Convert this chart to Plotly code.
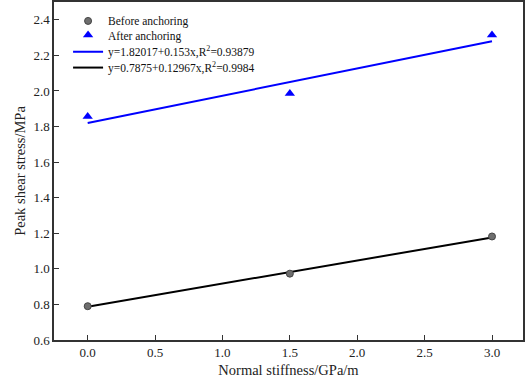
import plotly.graph_objects as go

stiffness = [0.0, 1.5, 3.0]
before = [0.79, 0.973, 1.182]
after = [1.856, 1.985, 2.315]

fit_after_a, fit_after_b = 1.82017, 0.153
fit_before_a, fit_before_b = 0.7875, 0.12967
fit_x = [0.0, 3.0]

x_ticks = [0.0, 0.5, 1.0, 1.5, 2.0, 2.5, 3.0]
y_ticks = [0.6, 0.8, 1.0, 1.2, 1.4, 1.6, 1.8, 2.0, 2.2, 2.4]

font = "Liberation Serif, Times New Roman, serif"

fig = go.Figure()
fig.add_trace(go.Scatter(
    x=fit_x, y=[fit_after_a + fit_after_b * v for v in fit_x], mode="lines",
    line=dict(color="#0000ff", width=2),
    name="y=1.82017+0.153x,R<sup>2</sup>=0.93879", legend="legend4"))
fig.add_trace(go.Scatter(
    x=fit_x, y=[fit_before_a + fit_before_b * v for v in fit_x], mode="lines",
    line=dict(color="#000000", width=2),
    name="y=0.7875+0.12967x,R<sup>2</sup>=0.9984", legend="legend5"))
fig.add_trace(go.Scatter(
    x=stiffness, y=before, mode="markers",
    marker=dict(symbol="circle", size=7, color="#6e6e6e",
                line=dict(color="#444444", width=1)),
    name="Before anchoring", legend="legend2"))
fig.add_trace(go.Scatter(
    x=stiffness, y=after, mode="markers",
    marker=dict(symbol="triangle-up", size=9, color="#0000ff",
                line=dict(width=0)),
    name="After anchoring", legend="legend3"))

axis_common = dict(
    showline=True, linecolor="#333333", linewidth=1.5, mirror=True,
    ticks="inside", ticklen=5, tickwidth=1, tickcolor="#333333",
    showgrid=False, zeroline=False, automargin=False,
    tickfont=dict(family=font, size=13, color="#222222"),
)


def legend_at(ypos):
    return dict(x=0.03, y=ypos, xanchor="left", yanchor="middle",
                bgcolor="rgba(0,0,0,0)", itemwidth=30,
                font=dict(family=font, size=11.5, color="#111111"))


fig.update_layout(
    width=525, height=387,
    margin=dict(l=54, r=2, t=2, b=47),
    paper_bgcolor="white", plot_bgcolor="white",
    font=dict(family=font, size=12, color="#222222"),
    showlegend=True,
    xaxis=dict(range=[-0.25, 3.23], tickvals=x_ticks,
               ticktext=[f"{v:.1f}" for v in x_ticks],
               title=dict(text="Normal stiffness/GPa/m",
                          font=dict(family=font, size=14.5), standoff=6),
               **axis_common),
    yaxis=dict(range=[0.6, 2.5], tickvals=y_ticks,
               ticktext=[f"{v:.1f}" for v in y_ticks],
               title=dict(text="Peak shear stress/MPa",
                          font=dict(family=font, size=14.5), standoff=4),
               **axis_common),
    legend2=legend_at(0.944),
    legend3=legend_at(0.902),
    legend4=legend_at(0.853),
    legend5=legend_at(0.806),
)

fig.write_html(
    "out.html",
    config={"displayModeBar": False},
    post_script="document.body.style.margin='0';document.body.style.overflow='hidden';",
)
